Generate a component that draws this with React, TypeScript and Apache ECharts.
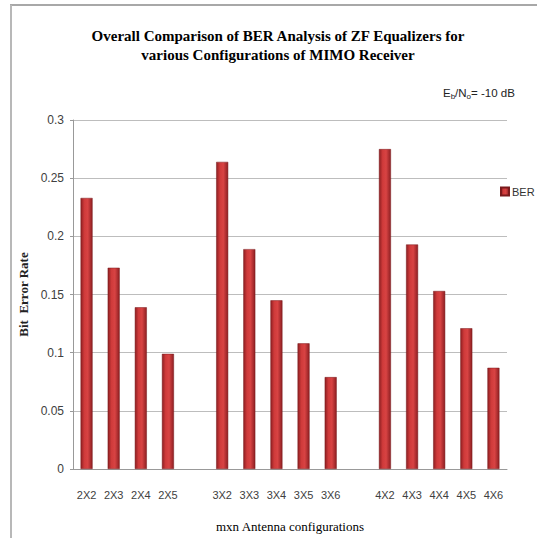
import React, { useEffect, useRef } from "react";
import * as echarts from "echarts";

const categories = ["2X2", "2X3", "2X4", "2X5", "", "3X2", "3X3", "3X4", "3X5", "3X6", " ", "4X2", "4X3", "4X4", "4X5", "4X6"];
const berValues: (number | string)[] = [0.233, 0.173, 0.139, 0.099, "-", 0.264, 0.189, 0.145, 0.108, 0.079, "-", 0.275, 0.193, 0.153, 0.121, 0.087];
const yTicks = { min: 0, max: 0.3, interval: 0.05 };

export default function App() {
  const ref = useRef<HTMLDivElement>(null);
  useEffect(() => {
    if (!ref.current) return;
    const chart = echarts.init(ref.current, undefined, { renderer: "svg" });
    const barGrad = new echarts.graphic.LinearGradient(0, 0, 1, 0, [
      { offset: 0, color: "#8e1f22" },
      { offset: 0.3, color: "#cf3a3a" },
      { offset: 0.6, color: "#d84343" },
      { offset: 1, color: "#8e1f22" },
    ]);
    chart.setOption({
      animation: false,
      backgroundColor: "#ffffff",
      title: {
        text: "Overall Comparison of BER Analysis of ZF Equalizers for\nvarious Configurations of MIMO Receiver",
        left: 273,
        textAlign: "center",
        top: 21,
        textStyle: {
          fontFamily: "Liberation Serif",
          fontWeight: "bold",
          fontSize: 15,
          lineHeight: 19,
          color: "#000",
        },
      },
      legend: {
        data: [{ name: "BER", icon: "rect" }],
        left: 495,
        top: 181,
        itemWidth: 8,
        itemHeight: 8,
        itemGap: 4,
        textStyle: { fontFamily: "Liberation Sans", fontSize: 11, color: "#333", padding: [0, 0, 0, -2] },
      },
      grid: { left: 73, right: 30, top: 120, bottom: 68, containLabel: false },
      xAxis: {
        type: "category",
        data: categories,
        name: "mxn Antenna configurations",
        nameLocation: "middle",
        nameGap: 51,
        nameTextStyle: { fontFamily: "Liberation Serif", fontSize: 13, color: "#000" },
        axisLine: { lineStyle: { color: "#999", width: 1 } },
        axisTick: { show: false },
        axisLabel: { interval: 0, margin: 20, fontFamily: "Liberation Sans", fontSize: 11, color: "#404040" },
      },
      yAxis: {
        type: "value",
        min: yTicks.min,
        max: yTicks.max,
        interval: yTicks.interval,
        name: "Bit  Error Rate",
        nameLocation: "middle",
        nameGap: 38,
        nameTextStyle: { fontFamily: "Liberation Serif", fontWeight: "bold", fontSize: 13, color: "#222" },
        axisLine: { show: true, lineStyle: { color: "#999" } },
        axisTick: { show: true, length: 3, lineStyle: { color: "#999" } },
        axisLabel: { margin: 9, fontFamily: "Liberation Sans", fontSize: 12, color: "#404040" },
        splitLine: { lineStyle: { color: "#bdbdbd", width: 1 } },
      },
      series: [
        {
          name: "BER",
          type: "bar",
          data: berValues,
          barWidth: 12,
          itemStyle: { color: barGrad, borderColor: "#7a1a1c", borderWidth: 0.5 },
        },
      ],
      graphic: [
        { type: "line", shape: { x1: 10, y1: 5, x2: 537, y2: 5 }, style: { stroke: "#a8a8a8", lineWidth: 2 } },
        { type: "line", shape: { x1: 11, y1: 5, x2: 11, y2: 538 }, style: { stroke: "#b8b8b8", lineWidth: 2 } },
        {
          type: "text",
          left: 443,
          top: 87,
          style: {
            text: "E{s|b}/N{s|o}= -10 dB",
            fontFamily: "Liberation Sans",
            fontSize: 11.5,
            fill: "#222",
            rich: { s: { fontSize: 8, padding: [6, 0, 0, 0], fontFamily: "Liberation Sans" } },
          },
        },
      ],
    });
    return () => chart.dispose();
  }, []);
  return <div ref={ref} style={{ position: "fixed", left: 0, top: 0, width: 537, height: 538 }} />;
}
